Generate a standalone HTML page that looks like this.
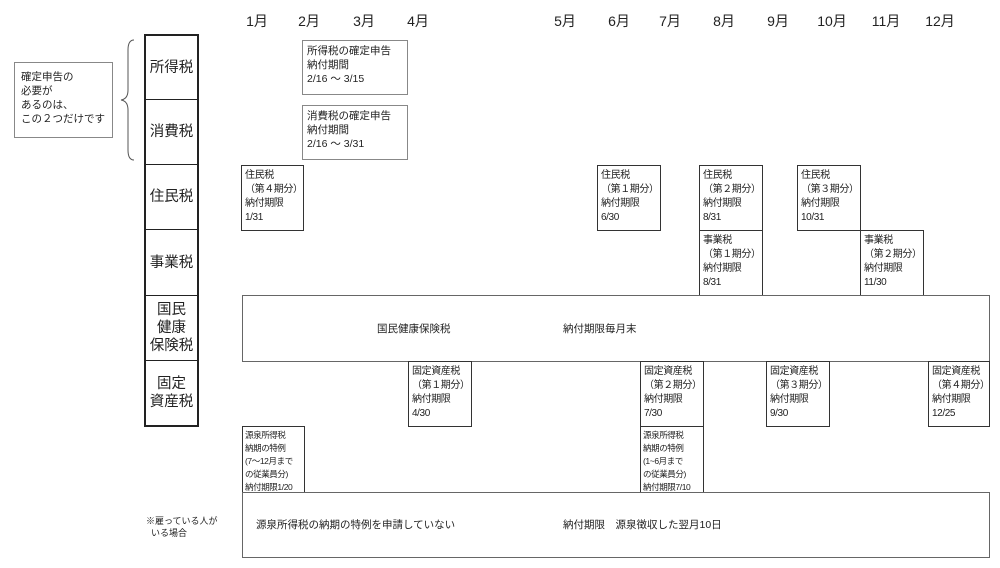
<!DOCTYPE html>
<html><head><meta charset="utf-8"><style>
body{margin:0;width:1000px;height:568px;background:#fff;position:relative;overflow:hidden;font-family:"Liberation Sans","Noto Sans CJK JP",sans-serif;color:#222}
.a{position:absolute;box-sizing:border-box}
.m{position:absolute;top:11px;font-size:14px;transform:translateX(-50%);white-space:nowrap}
.b{position:absolute;box-sizing:border-box;border:1px solid #333;font-size:10px;line-height:14px;padding:3px 0 0 3px;white-space:nowrap;background:#fff;letter-spacing:-0.4px;overflow:hidden}
.g{border-color:#888;letter-spacing:0;font-size:10.5px;padding-left:4px}
.s{font-size:8.5px;line-height:13px;padding:2px 0 0 2px;letter-spacing:-0.4px}
.r{position:absolute;left:144px;width:55px;border:2px solid #222;border-top:none;box-sizing:border-box;display:flex;align-items:center;justify-content:center;text-align:center;font-size:14.5px;line-height:18px}
</style></head><body>
<div class="m" style="left:257px">1月</div>
<div class="m" style="left:309px">2月</div>
<div class="m" style="left:364px">3月</div>
<div class="m" style="left:418px">4月</div>
<div class="m" style="left:565px">5月</div>
<div class="m" style="left:619px">6月</div>
<div class="m" style="left:670px">7月</div>
<div class="m" style="left:724px">8月</div>
<div class="m" style="left:778px">9月</div>
<div class="m" style="left:832px">10月</div>
<div class="m" style="left:886px">11月</div>
<div class="m" style="left:940px">12月</div>

<div class="a" style="left:144px;top:34px;width:55px;height:2px;background:#222"></div>
<div class="r" style="top:36px;height:64px;border-bottom:1px solid #222">所得税</div>
<div class="r" style="top:100px;height:65px;border-bottom:1px solid #222">消費税</div>
<div class="r" style="top:165px;height:65px;border-bottom:1px solid #222">住民税</div>
<div class="r" style="top:230px;height:66px;border-bottom:1px solid #222">事業税</div>
<div class="r" style="top:296px;height:65px;border-bottom:1px solid #222">国民<br>健康<br>保険税</div>
<div class="r" style="top:361px;height:66px;border-bottom:2px solid #222">固定<br>資産税</div>

<div class="b g" style="left:14px;top:62px;width:99px;height:76px;padding:7px 0 0 6px;line-height:14px">確定申告の<br>必要が<br>あるのは、<br>この２つだけです</div>
<svg class="a" style="left:118px;top:38px" width="20" height="124"><path d="M16 2 Q10 2 10 12 L10 52 Q10 61 3 62 Q10 63 10 72 L10 112 Q10 122 16 122" fill="none" stroke="#555" stroke-width="1"/></svg>

<div class="b g" style="left:302px;top:40px;width:106px;height:55px">所得税の確定申告<br>納付期間<br>2/16 ～ 3/15</div>
<div class="b g" style="left:302px;top:105px;width:106px;height:55px">消費税の確定申告<br>納付期間<br>2/16 ～ 3/31</div>

<div class="b" style="left:241px;top:165px;width:63px;height:66px">住民税<br>（第４期分）<br>納付期限<br>1/31</div>
<div class="b" style="left:597px;top:165px;width:64px;height:66px">住民税<br>（第１期分）<br>納付期限<br>6/30</div>
<div class="b" style="left:699px;top:165px;width:64px;height:66px">住民税<br>（第２期分）<br>納付期限<br>8/31</div>
<div class="b" style="left:699px;top:230px;width:64px;height:67px">事業税<br>（第１期分）<br>納付期限<br>8/31</div>
<div class="b" style="left:797px;top:165px;width:64px;height:66px">住民税<br>（第３期分）<br>納付期限<br>10/31</div>
<div class="b" style="left:860px;top:230px;width:64px;height:67px">事業税<br>（第２期分）<br>納付期限<br>11/30</div>

<div class="b" style="left:242px;top:295px;width:748px;height:67px;border-color:#666"></div>
<div class="a" style="left:377px;top:321px;font-size:10.5px">国民健康保険税</div>
<div class="a" style="left:563px;top:321px;font-size:10.5px">納付期限毎月末</div>

<div class="b" style="left:408px;top:361px;width:64px;height:66px">固定資産税<br>（第１期分）<br>納付期限<br>4/30</div>
<div class="b" style="left:640px;top:361px;width:64px;height:66px">固定資産税<br>（第２期分）<br>納付期限<br>7/30</div>
<div class="b" style="left:766px;top:361px;width:64px;height:66px">固定資産税<br>（第３期分）<br>納付期限<br>9/30</div>
<div class="b" style="left:928px;top:361px;width:62px;height:66px">固定資産税<br>（第４期分）<br>納付期限<br>12/25</div>

<div class="b s" style="left:242px;top:426px;width:63px;height:67px">源泉所得税<br>納期の特例<br>(7～12月まで<br>の従業員分)<br>納付期限1/20</div>
<div class="b s" style="left:640px;top:426px;width:64px;height:67px">源泉所得税<br>納期の特例<br>(1~6月まで<br>の従業員分)<br>納付期限7/10</div>

<div class="b" style="left:242px;top:492px;width:748px;height:66px;border-color:#666"></div>
<div class="a" style="left:256px;top:517px;font-size:10.5px">源泉所得税の納期の特例を申請していない</div>
<div class="a" style="left:563px;top:517px;font-size:10.5px">納付期限　源泉徴収した翌月10日</div>
<div class="a" style="left:146px;top:515px;font-size:9px;line-height:12px">※雇っている人が<br>&nbsp;&nbsp;いる場合</div>
</body></html>
